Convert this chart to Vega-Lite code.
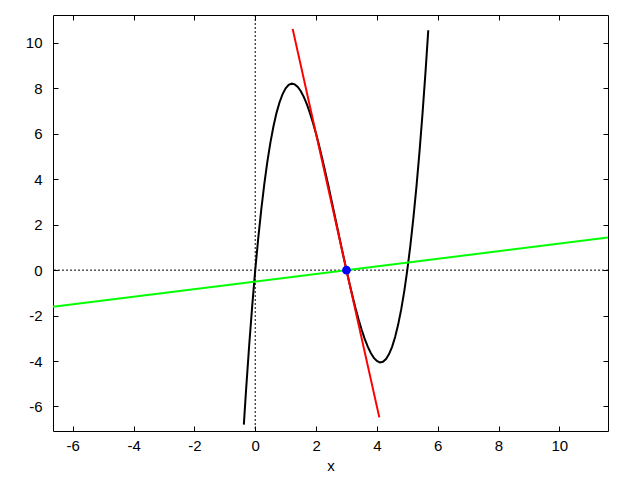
{
  "$schema": "https://vega.github.io/schema/vega-lite/v6.json",
  "width": 555,
  "height": 416,
  "autosize": "none",
  "padding": {"left": 53, "top": 15, "right": 32, "bottom": 49},
  "config": {
    "view": {"stroke": "black", "strokeWidth": 1},
    "axis": {
      "grid": false,
      "domain": false,
      "tickColor": "black",
      "tickSize": -5,
      "labelFont": "Liberation Sans",
      "labelFontSize": 15,
      "labelColor": "black",
      "titleFont": "Liberation Sans",
      "titleFontSize": 15,
      "titleFontWeight": "normal",
      "titleColor": "black"
    }
  },
  "datasets": {
    "curves": [
      {"s": "f", "x": -0.375, "y": -6.8},
      {"s": "f", "x": -0.3, "y": -5.247},
      {"s": "f", "x": -0.2, "y": -3.328},
      {"s": "f", "x": -0.1, "y": -1.581},
      {"s": "f", "x": 0, "y": 0},
      {"s": "f", "x": 0.1, "y": 1.421},
      {"s": "f", "x": 0.2, "y": 2.688},
      {"s": "f", "x": 0.3, "y": 3.807},
      {"s": "f", "x": 0.4, "y": 4.784},
      {"s": "f", "x": 0.5, "y": 5.625},
      {"s": "f", "x": 0.6, "y": 6.336},
      {"s": "f", "x": 0.7, "y": 6.923},
      {"s": "f", "x": 0.8, "y": 7.392},
      {"s": "f", "x": 0.9, "y": 7.749},
      {"s": "f", "x": 1.0, "y": 8},
      {"s": "f", "x": 1.1, "y": 8.151},
      {"s": "f", "x": 1.2, "y": 8.208},
      {"s": "f", "x": 1.3, "y": 8.177},
      {"s": "f", "x": 1.4, "y": 8.064},
      {"s": "f", "x": 1.5, "y": 7.875},
      {"s": "f", "x": 1.6, "y": 7.616},
      {"s": "f", "x": 1.7, "y": 7.293},
      {"s": "f", "x": 1.8, "y": 6.912},
      {"s": "f", "x": 1.9, "y": 6.479},
      {"s": "f", "x": 2.0, "y": 6},
      {"s": "f", "x": 2.1, "y": 5.481},
      {"s": "f", "x": 2.2, "y": 4.928},
      {"s": "f", "x": 2.3, "y": 4.347},
      {"s": "f", "x": 2.4, "y": 3.744},
      {"s": "f", "x": 2.5, "y": 3.125},
      {"s": "f", "x": 2.6, "y": 2.496},
      {"s": "f", "x": 2.7, "y": 1.863},
      {"s": "f", "x": 2.8, "y": 1.232},
      {"s": "f", "x": 2.9, "y": 0.609},
      {"s": "f", "x": 3.0, "y": 0},
      {"s": "f", "x": 3.1, "y": -0.589},
      {"s": "f", "x": 3.2, "y": -1.152},
      {"s": "f", "x": 3.3, "y": -1.683},
      {"s": "f", "x": 3.4, "y": -2.176},
      {"s": "f", "x": 3.5, "y": -2.625},
      {"s": "f", "x": 3.6, "y": -3.024},
      {"s": "f", "x": 3.7, "y": -3.367},
      {"s": "f", "x": 3.8, "y": -3.648},
      {"s": "f", "x": 3.9, "y": -3.861},
      {"s": "f", "x": 4.0, "y": -4},
      {"s": "f", "x": 4.1, "y": -4.059},
      {"s": "f", "x": 4.2, "y": -4.032},
      {"s": "f", "x": 4.3, "y": -3.913},
      {"s": "f", "x": 4.4, "y": -3.696},
      {"s": "f", "x": 4.5, "y": -3.375},
      {"s": "f", "x": 4.6, "y": -2.944},
      {"s": "f", "x": 4.7, "y": -2.397},
      {"s": "f", "x": 4.8, "y": -1.728},
      {"s": "f", "x": 4.9, "y": -0.931},
      {"s": "f", "x": 5.0, "y": 0},
      {"s": "f", "x": 5.1, "y": 1.071},
      {"s": "f", "x": 5.2, "y": 2.288},
      {"s": "f", "x": 5.3, "y": 3.657},
      {"s": "f", "x": 5.4, "y": 5.184},
      {"s": "f", "x": 5.5, "y": 6.875},
      {"s": "f", "x": 5.6, "y": 8.736},
      {"s": "f", "x": 5.69, "y": 10.561},
      {"s": "tangent", "x": 1.23, "y": 10.62},
      {"s": "tangent", "x": 4.08, "y": -6.48},
      {"s": "normal", "x": -6.65, "y": -1.608},
      {"s": "normal", "x": 11.6, "y": 1.433}
    ]
  },
  "resolve": {"axis": {"x": "independent", "y": "independent"}},
  "layer": [
    {
      "data": {"values": [{"x": 0}]},
      "mark": {"type": "rule", "color": "black", "strokeWidth": 1, "strokeDash": [2, 2]},
      "encoding": {
        "x": {"field": "x", "type": "quantitative", "scale": {"domain": [-6.65, 11.6], "nice": false, "zero": false}, "axis": null}
      }
    },
    {
      "data": {"values": [{"y": 0}]},
      "mark": {"type": "rule", "color": "black", "strokeWidth": 1, "strokeDash": [2, 2]},
      "encoding": {
        "y": {"field": "y", "type": "quantitative", "scale": {"domain": [-7.08, 11.23], "nice": false, "zero": false}, "axis": null}
      }
    },
    {
      "data": {"name": "curves"},
      "mark": {"type": "line", "strokeWidth": 2, "clip": true},
      "encoding": {
        "x": {"field": "x", "type": "quantitative", "scale": {"domain": [-6.65, 11.6], "nice": false, "zero": false},
          "axis": {"orient": "bottom", "values": [-6, -4, -2, 0, 2, 4, 6, 8, 10], "labelExpr": "'' + datum.value", "title": "x", "labelPadding": 12, "titlePadding": 5}},
        "y": {"field": "y", "type": "quantitative", "scale": {"domain": [-7.08, 11.23], "nice": false, "zero": false},
          "axis": {"orient": "left", "values": [-6, -4, -2, 0, 2, 4, 6, 8, 10], "labelExpr": "'' + datum.value", "title": null, "labelPadding": 16}},
        "color": {"field": "s", "type": "nominal", "scale": {"domain": ["f", "tangent", "normal"], "range": ["#000000", "#ff0000", "#00ff00"]}, "legend": null},
        "order": {"field": "x", "type": "quantitative"}
      }
    },
    {
      "data": {"values": [{"x": 3, "y": 0}]},
      "mark": {"type": "point", "filled": true, "color": "#0000ff", "opacity": 1, "size": 75},
      "encoding": {
        "x": {"field": "x", "type": "quantitative", "scale": {"domain": [-6.65, 11.6], "nice": false, "zero": false},
          "axis": {"orient": "top", "values": [-6, -4, -2, 0, 2, 4, 6, 8, 10], "labels": false, "title": null}},
        "y": {"field": "y", "type": "quantitative", "scale": {"domain": [-7.08, 11.23], "nice": false, "zero": false},
          "axis": {"orient": "right", "values": [-6, -4, -2, 0, 2, 4, 6, 8, 10], "labels": false, "title": null}}
      }
    }
  ]
}
